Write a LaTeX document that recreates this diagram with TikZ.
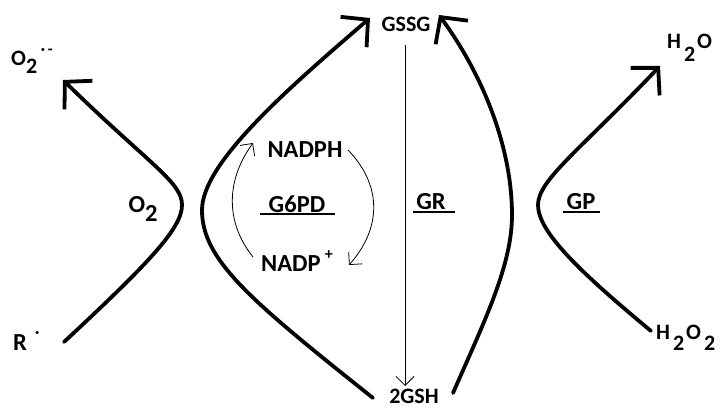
\documentclass[tikz,border=0pt]{standalone}
\usepackage{fontspec}
\setmainfont{Carlito}
\usetikzlibrary{arrows.meta}
% lowered / raised pieces of chemical formulas
\newcommand\lowr[2][0.42em]{\raisebox{-#1}{#2}}
\newcommand\highr[1]{\raisebox{0.5em}{\fontsize{16}{16}\selectfont #1}}
\tikzset{
  lbl/.style={font=\fontsize{24.5}{24.5}\selectfont\bfseries, inner sep=0pt, text=black},
  toplbl/.style={lbl, font=\fontsize{22}{22}\selectfont\bfseries},
  thickpath/.style={line width=3.8pt, line cap=round, line join=round,
    -{Straight Barb[length=19pt,width=40pt,line width=3.8pt]}},
  thinpath/.style={line width=0.8pt,
    -{Straight Barb[length=9pt,width=18pt,line width=0.8pt]}},
  enzyme/.style={lbl},
  uline/.style={line width=1.4pt}
}
\begin{document}
\begin{tikzpicture}[x=1pt,y=-1pt]
\useasboundingbox (0,0) rectangle (721,409);

% metabolite labels
\node[toplbl, anchor=west] (o2rad) at (11,61) {O\lowr[0.4em]{2}\,\highr{·\,-}};
\node[lbl, anchor=west] (rrad) at (13,341) {R\,\,\highr{·}};
\node[lbl] (o2) at (143,209) {O\lowr[0.35em]{2}};
\node[toplbl] (gssg) at (406,24) {GSSG};
\node[toplbl] (gsh) at (414,396) {2GSH};
\node[toplbl, anchor=west] (h2o) at (667,48) {H\kern3pt\lowr[0.6em]{2}\kern2pt O};
\node[toplbl, anchor=west] (h2o2) at (656,338) {H\kern3pt\lowr[0.5em]{2}\kern2pt O\kern3pt\lowr[0.5em]{2}};
\node[lbl] (nadph) at (305,150) {NADPH};
\node[lbl, anchor=west] (nadp) at (261,261) {NADP\,\highr{+}};

% enzyme labels with their underlines
\node[enzyme] (g6pd) at (297,204) {G6PD};
\draw[uline] (260,214) -- (335,214);
\node[enzyme] (gr) at (431,202) {GR};
\draw[uline] (413,212) -- (455,212);
\node[enzyme] (gp) at (581,202) {GP};
\draw[uline] (563,212) -- (600,212);

% endpoints of the curved reaction arrows
\coordinate (a1s) at (64,342);
\coordinate (a1e) at (63,80);
\coordinate (a2s) at (373,398);
\coordinate (a2e) at (370,18);
\coordinate (a3s) at (453,393);
\coordinate (a3e) at (439,15);
\coordinate (a4s) at (651,331);
\coordinate (a4e) at (660,66);

% R. -> O2.-
\draw[thickpath] (a1s) .. controls (150,262) and (182,228) .. (182,205)
  .. controls (182,182) and (150,165) .. (a1e);
% 2GSH -> GSSG (left)
\draw[thickpath] (a2s) .. controls (250,300) and (202,260) .. (202,210)
  .. controls (202,165) and (280,95) .. (a2e);
% 2GSH -> GSSG (right)
\draw[thickpath] (a3s) .. controls (485,320) and (512,265) .. (512,215)
  .. controls (512,150) and (485,78) .. (a3e);
% H2O2 -> H2O
\draw[thickpath] (a4s) .. controls (580,272) and (538,232) .. (538,205)
  .. controls (538,180) and (580,150) .. (a4e);

% GR: GSSG -> 2GSH
\draw[thinpath] (405,45) coordinate (grs) -- (405,386) coordinate (gre);

% NADP+ / NADPH cycle
\draw[thinpath] (253,257) .. controls (225,222) and (226,180) .. (253,143);
\draw[thinpath] (348,150) .. controls (382,185) and (382,228) .. (349,265);
\end{tikzpicture}
\end{document}
